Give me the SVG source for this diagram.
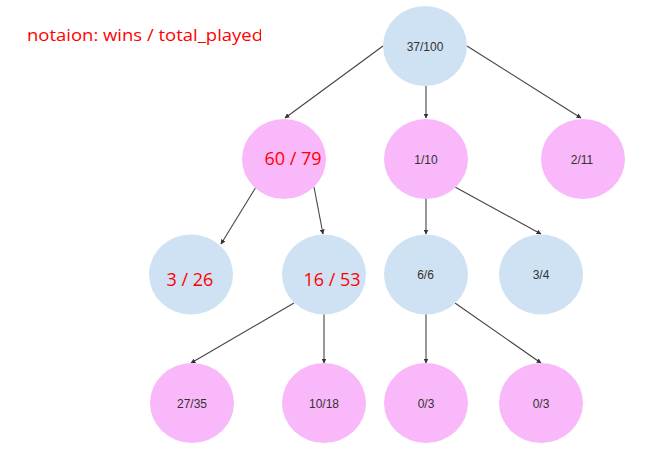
<svg xmlns="http://www.w3.org/2000/svg" width="668" height="458" viewBox="0 0 668 458">
<style>
.blue{fill:#cfe2f3}
.pink{fill:#f9b8f9}
.lbl{font-family:"Liberation Sans",Arial,sans-serif;font-size:12px;fill:#333;text-anchor:middle}
.red{font-family:"Open Sans","Noto Sans",sans-serif;font-size:18px;fill:#ff0000;text-anchor:middle}
.edge{stroke:#444;stroke-width:1.1;fill:none;marker-end:url(#ah)}
</style>
<defs>
<marker id="ah" viewBox="0 0 10 10" refX="9" refY="5" markerWidth="5" markerHeight="5" orient="auto" markerUnits="userSpaceOnUse">
<path d="M0,0 L10,5 L0,10 z" fill="#333"/>
</marker>
<clipPath id="tclip"><rect x="0" y="0" width="261" height="60"/></clipPath>
</defs>
<rect width="668" height="458" fill="#fff"/>
<text x="27" y="41" clip-path="url(#tclip)" style="font-family:'Open Sans','Noto Sans',sans-serif;font-size:16px;fill:#ff0000" textLength="236" lengthAdjust="spacingAndGlyphs">notaion: wins / total_played</text>
<g id="connectors">
<line class="edge" x1="383" y1="46" x2="285" y2="118"/>
<line class="edge" x1="426" y1="86" x2="426" y2="118"/>
<line class="edge" x1="467" y1="46" x2="581" y2="118"/>
<line class="edge" x1="256" y1="187" x2="221" y2="244"/>
<line class="edge" x1="314" y1="187" x2="323" y2="234"/>
<line class="edge" x1="426" y1="198" x2="426" y2="234"/>
<line class="edge" x1="455" y1="187" x2="541" y2="234"/>
<line class="edge" x1="294" y1="303" x2="191" y2="363"/>
<line class="edge" x1="324" y1="313" x2="324" y2="363"/>
<line class="edge" x1="426" y1="313" x2="426" y2="363"/>
<line class="edge" x1="455" y1="303" x2="541" y2="363"/>
</g>
<g id="n_root"><ellipse class="blue" cx="425" cy="46" rx="42" ry="40"/><text class="lbl" x="425" y="50.5">37/100</text></g>
<g id="n_60_79"><ellipse class="pink" cx="284" cy="159" rx="42" ry="40"/><text class="red" x="293" y="165">60 / 79</text></g>
<g id="n_1_10"><ellipse class="pink" cx="426" cy="159" rx="42" ry="40"/><text class="lbl" x="426" y="163.5">1/10</text></g>
<g id="n_2_11"><ellipse class="pink" cx="583" cy="159" rx="42" ry="40"/><text class="lbl" x="582" y="163.5">2/11</text></g>
<g id="n_3_26"><ellipse class="blue" cx="191" cy="274.5" rx="42" ry="40"/><text class="red" x="190" y="285.5">3 / 26</text></g>
<g id="n_16_53"><ellipse class="blue" cx="324" cy="274.5" rx="42" ry="40"/><text class="red" x="332" y="285.5">16 / 53</text></g>
<g id="n_6_6"><ellipse class="blue" cx="426" cy="274.5" rx="42" ry="40"/><text class="lbl" x="425.5" y="279">6/6</text></g>
<g id="n_3_4"><ellipse class="blue" cx="541" cy="274.5" rx="42" ry="40"/><text class="lbl" x="541" y="279">3/4</text></g>
<g id="n_27_35"><ellipse class="pink" cx="192" cy="403" rx="42" ry="40"/><text class="lbl" x="192" y="407.5">27/35</text></g>
<g id="n_10_18"><ellipse class="pink" cx="324" cy="403" rx="42" ry="40"/><text class="lbl" x="324" y="407.5">10/18</text></g>
<g id="n_0_3a"><ellipse class="pink" cx="426" cy="403" rx="42" ry="40"/><text class="lbl" x="426" y="407.5">0/3</text></g>
<g id="n_0_3b"><ellipse class="pink" cx="541" cy="403" rx="42" ry="40"/><text class="lbl" x="541" y="407.5">0/3</text></g>
</svg>
